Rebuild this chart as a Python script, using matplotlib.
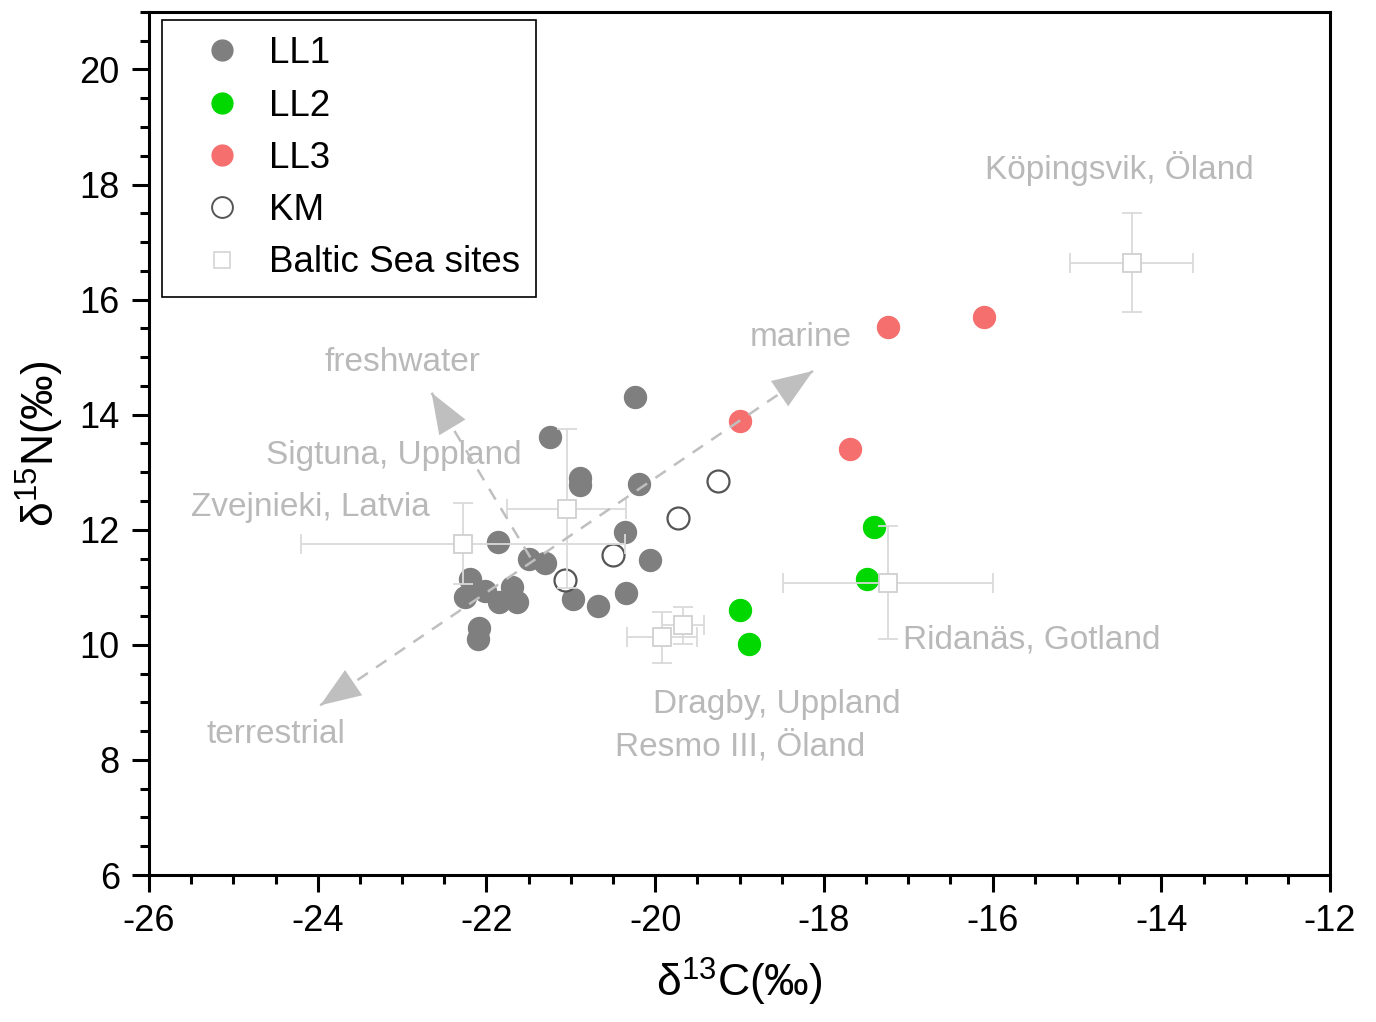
import numpy as np
import matplotlib
matplotlib.use("Agg")
import matplotlib.pyplot as plt
from matplotlib.lines import Line2D
from matplotlib.ticker import MultipleLocator

plt.rcParams['font.family'] = ['Liberation Sans', 'DejaVu Sans']
plt.rcParams['mathtext.default'] = 'regular'
plt.rcParams['axes.unicode_minus'] = False

# --- data ---
ll1_c = [-20.24, -21.25, -20.89, -20.89, -20.19, -20.36, -20.06, -21.86, -21.50, -21.31,
         -22.19, -22.25, -22.02, -21.70, -21.85, -21.64, -20.97, -20.68, -20.35, -22.09, -22.10]
ll1_n = [14.31, 13.62, 12.90, 12.78, 12.80, 11.97, 11.47, 11.79, 11.50, 11.43,
         11.14, 10.84, 10.94, 11.00, 10.74, 10.75, 10.79, 10.67, 10.91, 10.30, 10.11]

ll2_c = [-17.41, -17.49, -18.99, -18.89]
ll2_n = [12.05, 11.15, 10.60, 10.01]

ll3_c = [-17.24, -16.10, -18.99, -17.69]
ll3_n = [15.52, 15.70, 13.89, 13.41]

km_c = [-19.26, -19.73, -20.50, -21.07]
km_n = [12.85, 12.21, 11.57, 11.12]

sites = ["Köpingsvik, Öland", "Ridanäs, Gotland", "Zvejnieki, Latvia",
         "Sigtuna, Uppland", "Dragby, Uppland", "Resmo III, Öland"]
site_c = [-14.35, -17.24, -22.28, -21.05, -19.92, -19.67]
site_n = [16.64, 11.08, 11.76, 12.37, 10.13, 10.34]
site_c_err = [0.73, 1.25, 1.92, 0.71, 0.41, 0.25]
site_n_err = [0.86, 0.98, 0.70, 1.39, 0.44, 0.32]

# label positions for the site names
site_lab_c = [-14.50, -15.54, -24.09, -23.10, -18.56, -18.99]
site_lab_n = [18.28, 10.08, 12.38, 13.29, 8.97, 8.24]

# diet direction arrows: (tail, tip)
terr_tip = (-23.97, 8.95)
marine_tip = (-18.13, 14.76)
fresh_tail = (-21.48, 11.52)
fresh_tip = (-22.65, 14.38)

pale = '#b9b9b9'
arrow_col = '#bfbfbf'

fig = plt.figure(figsize=(13.76, 10.22), dpi=100)
ax = fig.add_axes([0.1083, 0.1438, 0.8583, 0.8445])

ax.scatter(ll1_c, ll1_n, s=250, color='#7f7f7f', zorder=3, label='LL1')
ax.scatter(ll2_c, ll2_n, s=250, color='#00d800', zorder=3, label='LL2')
ax.scatter(ll3_c, ll3_n, s=250, color='#f66f6f', zorder=3, label='LL3')
ax.scatter(km_c, km_n, s=250, facecolor='white', edgecolor='#555555', linewidth=1.6,
           zorder=3, label='KM')

ax.errorbar(site_c, site_n, xerr=site_c_err, yerr=site_n_err, fmt='s', ms=13,
            mfc='white', mec='#d0d0d0', mew=1.3, ecolor='#dadada', elinewidth=1.3,
            capsize=7, capthick=1.3, zorder=4)

for name, x, y in zip(sites, site_lab_c, site_lab_n):
    ax.text(x, y, name, color=pale, fontsize=24, ha='center', va='center', zorder=5)

ax.text(-23.00, 14.90, 'freshwater', color=pale, fontsize=24, ha='center', va='center')
ax.text(-18.28, 15.35, 'marine', color=pale, fontsize=24, ha='center', va='center')
ax.text(-24.49, 8.45, 'terrestrial', color=pale, fontsize=24, ha='center', va='center')

# dashed lines + filled heads
ax.plot([terr_tip[0], marine_tip[0]], [terr_tip[1], marine_tip[1]], color=arrow_col,
        lw=1.8, ls=(0, (5, 4)), zorder=5)
ax.plot([fresh_tail[0], fresh_tip[0]], [fresh_tail[1], fresh_tip[1]], color=arrow_col,
        lw=1.8, ls=(0, (5, 4)), zorder=5)


def head(tip, other):
    dx = tip[0] - other[0]
    dy = tip[1] - other[1]
    start = (tip[0] - 0.12 * dx, tip[1] - 0.12 * dy)
    ax.annotate('', xy=tip, xytext=start, zorder=6,
                arrowprops=dict(arrowstyle='-|>,head_length=1.45,head_width=0.55',
                                mutation_scale=20, color=arrow_col, lw=0,
                                shrinkA=0, shrinkB=0))


head(marine_tip, terr_tip)
head(terr_tip, marine_tip)
head(fresh_tip, fresh_tail)

ax.set_xlim(-26, -12)
ax.set_ylim(6, 21)
ax.xaxis.set_major_locator(MultipleLocator(2))
ax.xaxis.set_minor_locator(MultipleLocator(0.5))
ax.yaxis.set_major_locator(MultipleLocator(2))
ax.yaxis.set_minor_locator(MultipleLocator(0.5))
ax.tick_params(which='major', direction='out', length=12, width=2.2, labelsize=26, pad=9)
ax.tick_params(which='minor', direction='out', length=6.5, width=2.2)
ax.tick_params(top=False, right=False, which='both')
for sp in ax.spines.values():
    sp.set_linewidth(2.2)

ax.set_xlabel('δ$^{13}$C(‰)', fontsize=32, labelpad=12)
ax.set_ylabel('δ$^{15}$N(‰)', fontsize=32, labelpad=10)

handles = [
    Line2D([], [], ls='', marker='o', ms=15, color='#7f7f7f'),
    Line2D([], [], ls='', marker='o', ms=15, color='#00d800'),
    Line2D([], [], ls='', marker='o', ms=15, color='#f66f6f'),
    Line2D([], [], ls='', marker='o', ms=15, mfc='white', mec='#555555', mew=1.4),
    Line2D([], [], ls='', marker='s', ms=12, mfc='white', mec='#d8d8d8', mew=1.3),
]
labels = ['LL1', 'LL2', 'LL3', 'KM', 'Baltic Sea sites']
leg = ax.legend(handles, labels, loc='upper left', bbox_to_anchor=(0.011, 0.991),
                borderaxespad=0, fontsize=26.5, frameon=True, fancybox=False,
                edgecolor='black', framealpha=1, labelspacing=0.47, borderpad=0.45,
                handlelength=2.35, handletextpad=0.1)
leg.get_frame().set_linewidth(1.2)

fig.savefig('out.png', dpi=100)
